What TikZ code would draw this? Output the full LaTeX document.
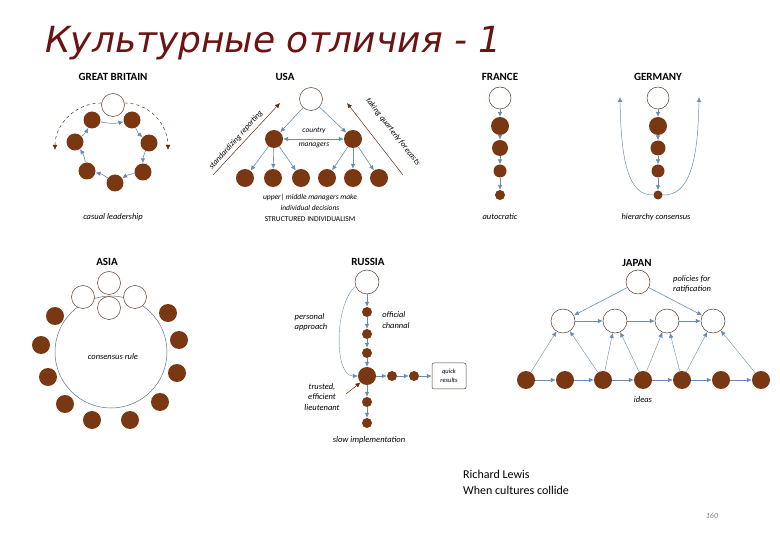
\documentclass[tikz,border=0pt]{standalone}
\usepackage{fontspec}
\setmainfont{Carlito}
\newfontfamily\titlefont{DejaVu Sans}
\usetikzlibrary{arrows.meta,positioning}
\definecolor{staff}{RGB}{122,56,18}
\definecolor{bossline}{RGB}{92,60,40}
\definecolor{flowblue}{RGB}{104,140,178}
\definecolor{titlered}{RGB}{108,18,18}
\definecolor{ringline}{RGB}{96,112,130}
\tikzset{
    person/.style={circle, fill=staff, inner sep=0pt, minimum size=#1},
    person/.default=17pt,
    boss/.style={circle, draw=bossline, fill=white, line width=0.5pt, inner sep=0pt, minimum size=#1},
    boss/.default=23pt,
    flow/.style={draw=flowblue, line width=0.6pt, -{Latex[length=5pt,width=4.5pt]}},
    sideflow/.style={draw=staff!80!black, line width=0.5pt, -{Latex[length=5pt,width=4.5pt]}},
    country/.style={font=\bfseries\fontsize{11}{13}\selectfont},
    remark/.style={font=\itshape\fontsize{8.5}{10.5}\selectfont, align=center, inner sep=1pt}
}
\begin{document}
\begin{tikzpicture}[x=1pt, y=-1pt]
        \useasboundingbox (0,0) rectangle (780,540);
        \node[anchor=base west, inner sep=0pt, text=titlered, font=\titlefont\itshape\fontsize{36}{40}\selectfont](title) at (45,53){Культурные отличия - 1};

        %Great Britain
        \node[country](gbtitle) at (113,77){GREAT BRITAIN};
        \node[boss](gbboss) at (113,105){};
        \node[person](gb1) at (92,120){};
        \node[person](gb2) at (132,120){};
        \node[person](gb3) at (149,143){};
        \node[person](gb4) at (143,172){};
        \node[person](gb5) at (115,183){};
        \node[person](gb6) at (87,171){};
        \node[person](gb7) at (75,142){};
        \draw[flow] (gb1) to[bend right=12] (gb2);
        \draw[flow] (gb2) to[bend right=12] (gb3);
        \draw[flow] (gb3) to[bend right=12] (gb4);
        \draw[flow] (gb4) to[bend right=12] (gb5);
        \draw[flow] (gb5) to[bend right=12] (gb6);
        \draw[flow] (gb6) to[bend right=12] (gb7);
        \draw[flow] (gb7) to[bend right=12] (gb1);
        \coordinate(gbleft) at (55,150);
        \coordinate(gbright) at (168,150);
        \draw[sideflow, dashed] (gbboss.170) to[out=180, in=90] (gbleft);
        \draw[sideflow, dashed] (gbboss.10) to[out=0, in=90] (gbright);
        \node[remark](gbnote) at (113,217){casual leadership};

        %USA
        \node[country](usatitle) at (285,77){USA};
        \node[boss](usaboss) at (311,99){};
        \node[person=18pt](usam1) at (274,139){};
        \node[person=18pt](usam2) at (353,139){};
        \node[person=18pt](usab1) at (245,178){};
        \node[person=18pt](usab2) at (273,178){};
        \node[person=18pt](usab3) at (301,178){};
        \node[person=18pt](usab4) at (327,178){};
        \node[person=18pt](usab5) at (353,178){};
        \node[person=18pt](usab6) at (379,178){};
        \draw[flow] (usaboss) -- (usam1);
        \draw[flow] (usaboss) -- (usam2);
        \draw[flow, {Latex[length=5pt,width=4.5pt]}-{Latex[length=5pt,width=4.5pt]}] (usam1) -- (usam2);
        \draw[flow] (usam1) -- (usab1);
        \draw[flow] (usam1) -- (usab2);
        \draw[flow] (usam1) -- (usab3);
        \draw[flow] (usam2) -- (usab4);
        \draw[flow] (usam2) -- (usab5);
        \draw[flow] (usam2) -- (usab6);
        \node[remark, font=\itshape\fontsize{7.5}{9.5}\selectfont](usacountry) at (314,138){country\\[5pt]managers};
        \coordinate(stdfoot) at (213,175);
        \coordinate(stdhead) at (280,103);
        \coordinate(fcfoot) at (403,175);
        \coordinate(fchead) at (347,103);
        \draw[sideflow] (stdfoot) -- (stdhead);
        \draw[sideflow] (fcfoot) -- (fchead);
        \node[remark, rotate=48, font=\itshape\fontsize{8}{9}\selectfont](usastd) at (236,140){standardizing reporting};
        \node[remark, rotate=-52, font=\itshape\fontsize{8}{9}\selectfont](usafc) at (393,132){taking quarterly forecasts};
        \node[remark, font=\fontsize{7.5}{11}\selectfont](usanote) at (310,208){\itshape upper| middle managers make\\\itshape individual decisions\\STRUCTURED INDIVIDUALISM};

        %France
        \node[country](frtitle) at (500,77){FRANCE};
        \node[boss=22pt](frboss) at (500,98){};
        \node[person=18pt](fr1) at (500,126){};
        \node[person=16pt](fr2) at (500,148){};
        \node[person=13pt](fr3) at (500,171){};
        \node[person=10pt](fr4) at (500,195){};
        \draw[flow] (frboss) -- (fr1);
        \draw[flow] (fr1) -- (fr2);
        \draw[flow] (fr2) -- (fr3);
        \draw[flow] (fr3) -- (fr4);
        \node[remark](frnote) at (500,217){autocratic};

        %Germany
        \node[country](detitle) at (658,77){GERMANY};
        \node[boss=22pt](deboss) at (658,98){};
        \node[person=18pt](de1) at (658,126){};
        \node[person=15pt](de2) at (658,148){};
        \node[person=13pt](de3) at (658,171){};
        \node[person=9pt](de4) at (658,195){};
        \draw[flow] (deboss) -- (de1);
        \draw[flow] (de1) -- (de2);
        \draw[flow] (de2) -- (de3);
        \draw[flow] (de3) -- (de4);
        \coordinate(deleft) at (620,97);
        \coordinate(deright) at (699,97);
        \draw[flow, line width=0.5pt] (de4.west) .. controls (628,196) and (621,160) .. (deleft);
        \draw[flow, line width=0.5pt] (de4.east) .. controls (690,196) and (698,160) .. (deright);
        \node[remark](denote) at (656,217){hierarchy consensus};

        %Asia
        \node[country](asiatitle) at (107,262){ASIA};
        \node[circle, draw=ringline, line width=0.5pt, minimum size=112pt](asiaring) at (111,352){};
        \node[boss](asiab1) at (109,283){};
        \node[boss](asiab2) at (83,297){};
        \node[boss](asiab3) at (135,297){};
        \node[boss](asiab4) at (109,308){};
        \node[person=18pt](asia1) at (55,316){};
        \node[person=18pt](asia2) at (41,345){};
        \node[person=18pt](asia3) at (48,377){};
        \node[person=18pt](asia4) at (65,404){};
        \node[person=18pt](asia5) at (92,420){};
        \node[person=18pt](asia6) at (130,420){};
        \node[person=18pt](asia7) at (160,402){};
        \node[person=18pt](asia8) at (177,373){};
        \node[person=18pt](asia9) at (179,340){};
        \node[person=18pt](asia10) at (168,313){};
        \node[remark](asianote) at (113,357){consensus rule};

        %Russia
        \node[country](rutitle) at (368,262){RUSSIA};
        \node[boss=24pt](ruboss) at (367,282){};
        \node[person=10pt](ru1) at (367,312){};
        \node[person=10pt](ru2) at (367,334){};
        \node[person=10pt](ru3) at (367,353){};
        \node[person=18pt](rulead) at (367,376){};
        \node[person=10pt](rur1) at (392,376){};
        \node[person=10pt](rur2) at (414,376){};
        \node[draw=bossline, rounded corners=2pt, line width=0.5pt, minimum width=34pt, minimum height=26pt, align=center, inner sep=1pt, font=\itshape\fontsize{6.5}{9}\selectfont](rubox) at (449,376){quick\\results};
        \node[person=10pt](rud1) at (367,402){};
        \node[person=10pt](rud2) at (367,423){};
        \draw[flow] (ruboss) -- (ru1);
        \draw[flow] (ru1) -- (ru2);
        \draw[flow] (ru2) -- (ru3);
        \draw[flow] (ru3) -- (rulead);
        \draw[flow] (rulead) -- (rur1);
        \draw[flow] (rur1) -- (rur2);
        \draw[flow] (rur2) -- (rubox);
        \draw[flow] (rulead) -- (rud1);
        \draw[flow] (rud1) -- (rud2);
        \draw[flow, line width=0.4pt] (ruboss.200) .. controls (334,305) and (334,376) .. (rulead.west);
        \node[remark, align=left](rupersonal) at (311,322){personal\\approach};
        \node[remark, align=left](ruofficial) at (396,320){official\\channal};
        \node[remark](rutrusted) at (322,397){trusted,\\efficient\\lieutenant};
        \coordinate(rutail) at (346,394);
        \draw[sideflow] (rutail) -- (rulead.225);
        \node[remark](runote) at (369,440){slow implementation};

        %Japan
        \node[country](jptitle) at (637,263){JAPAN};
        \node[boss=24pt](jpboss) at (638,282){};
        \node[boss=24pt](jpm1) at (563,321){};
        \node[boss=24pt](jpm2) at (615,321){};
        \node[boss=24pt](jpm3) at (667,321){};
        \node[boss=24pt](jpm4) at (713,321){};
        \node[person=18pt](jpb1) at (526,380){};
        \node[person=18pt](jpb2) at (565,380){};
        \node[person=18pt](jpb3) at (603,380){};
        \node[person=18pt](jpb4) at (643,380){};
        \node[person=18pt](jpb5) at (682,380){};
        \node[person=18pt](jpb6) at (721,380){};
        \node[person=18pt](jpb7) at (761,380){};
        \draw[flow] (jpboss) -- (jpm1);
        \draw[flow] (jpboss) -- (jpm4);
        \draw[flow] (jpm1) -- (jpm2);
        \draw[flow] (jpm2) -- (jpm3);
        \draw[flow] (jpm3) -- (jpm4);
        \draw[flow] (jpb1) -- (jpb2);
        \draw[flow] (jpb2) -- (jpb3);
        \draw[flow] (jpb3) -- (jpb4);
        \draw[flow] (jpb4) -- (jpb5);
        \draw[flow] (jpb5) -- (jpb6);
        \draw[flow] (jpb6) -- (jpb7);
        \draw[flow, line width=0.4pt] (jpb1) -- (jpm1);
        \draw[flow, line width=0.4pt] (jpb3) -- (jpm1);
        \draw[flow, line width=0.4pt] (jpb3) -- (jpm2);
        \draw[flow, line width=0.4pt] (jpb4) -- (jpm2);
        \draw[flow, line width=0.4pt] (jpb4) -- (jpm3);
        \draw[flow, line width=0.4pt] (jpb5) -- (jpm3);
        \draw[flow, line width=0.4pt] (jpb5) -- (jpm4);
        \draw[flow, line width=0.4pt] (jpb7) -- (jpm4);
        \node[remark, align=left, anchor=west](jppolicy) at (672,284){policies for\\ratification};
        \node[remark](jpnote) at (643,400){ideas};

        %source
        \node[anchor=north west, align=left, inner sep=0pt, font=\fontsize{12}{16}\selectfont](source) at (463,470){Richard Lewis\\When cultures collide};
        \node[text=gray, font=\itshape\fontsize{8}{10}\selectfont](pageno) at (712,516){160};
\end{tikzpicture}
\end{document}
